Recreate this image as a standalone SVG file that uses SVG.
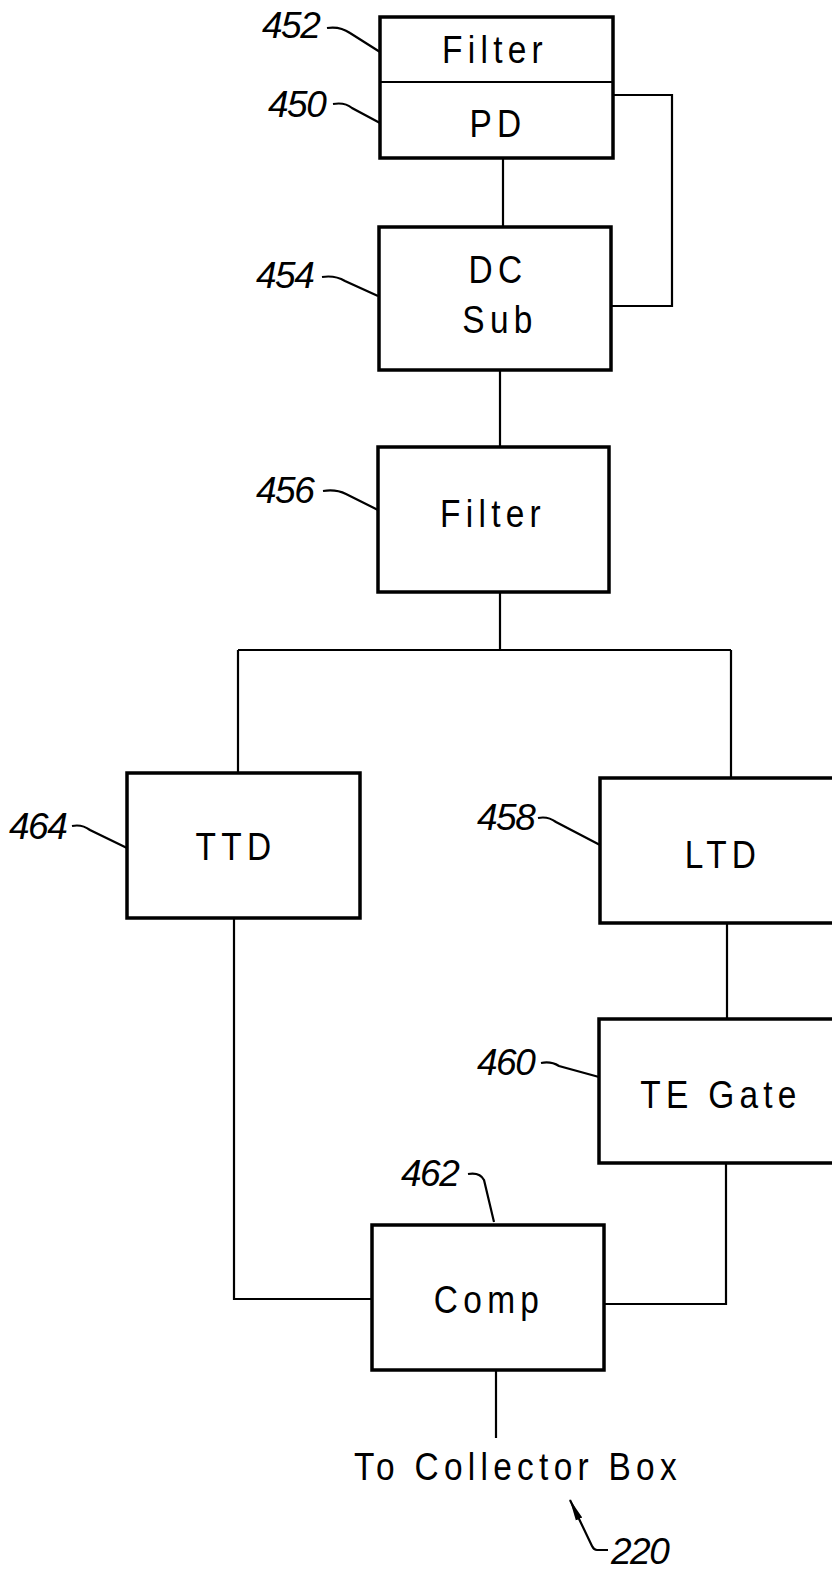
<svg xmlns="http://www.w3.org/2000/svg" width="832" height="1569" viewBox="0 0 832 1569">
<style>
.box{fill:#fff;stroke:#000;stroke-width:3.5}
.ln{fill:none;stroke:#000;stroke-width:2.2}
.t{font-family:"Liberation Sans",Arial,sans-serif;font-size:38px;text-anchor:middle;letter-spacing:6px;fill:#000}
.ref{font-family:"Liberation Sans",Arial,sans-serif;font-style:italic;font-size:37px;fill:#000;letter-spacing:-1.5px}
</style>
<defs>
<marker id="ah" markerWidth="22" markerHeight="10" refX="21" refY="5" orient="auto" markerUnits="userSpaceOnUse">
<path d="M0,1.5 L22,5 L0,8.5 Z" fill="#000"/>
</marker>
</defs>
<g id="connectors">
<path class="ln" d="M613,95 H672 V306 H611"/>
<path class="ln" d="M503,158 V227"/>
<path class="ln" d="M500,370 V447"/>
<path class="ln" d="M500,592 V650 M238,650 H731 M238,650 V773 M731,650 V778"/>
<path class="ln" d="M727,923 V1019"/>
<path class="ln" d="M726,1163 V1304 H604"/>
<path class="ln" d="M234,918 V1299 H372"/>
<path class="ln" d="M496,1370 V1438"/>
</g>
<g id="n450_452">
<rect class="box" x="380" y="17" width="233" height="141"/>
<line class="ln" x1="380" y1="82" x2="613" y2="82"/>
<text class="t" transform="translate(495,63) scale(0.88,1)">Filter</text>
<text class="t" transform="translate(498,137) scale(0.88,1)">PD</text>
</g>
<g id="n454">
<rect class="box" x="379" y="227" width="232" height="143"/>
<text class="t" transform="translate(498,283) scale(0.88,1)">DC</text>
<text class="t" transform="translate(500,333) scale(0.88,1)">Sub</text>
</g>
<g id="n456">
<rect class="box" x="378" y="447" width="231" height="145"/>
<text class="t" transform="translate(493,527) scale(0.88,1)">Filter</text>
</g>
<g id="n464">
<rect class="box" x="127" y="773" width="233" height="145"/>
<text class="t" transform="translate(236,860) scale(0.88,1)">TTD</text>
</g>
<g id="n458">
<rect class="box" x="600" y="778" width="234" height="145"/>
<text class="t" transform="translate(723,868) scale(0.88,1)">LTD</text>
</g>
<g id="n460">
<rect class="box" x="599" y="1019" width="235" height="144"/>
<text class="t" transform="translate(721,1108) scale(0.88,1)">TE Gate</text>
</g>
<g id="n462">
<rect class="box" x="372" y="1225" width="232" height="145"/>
<text class="t" transform="translate(489,1313) scale(0.88,1)">Comp</text>
</g>
<g id="labels">
<text class="t" transform="translate(518,1480) scale(0.88,1)">To Collector Box</text>
<text class="ref" x="262" y="38">452</text>
<path class="ln" d="M327,28 Q340,26 350,33 L380,52"/>
<text class="ref" x="268" y="117">450</text>
<path class="ln" d="M333,104 Q345,102 352,108 L380,123"/>
<text class="ref" x="256" y="288">454</text>
<path class="ln" d="M322,277 Q335,275 345,281 L378,296"/>
<text class="ref" x="256" y="503">456</text>
<path class="ln" d="M323,491 Q336,489 346,494 L378,510"/>
<text class="ref" x="9" y="839">464</text>
<path class="ln" d="M72,826 Q82,824 90,830 L127,848"/>
<text class="ref" x="477" y="830">458</text>
<path class="ln" d="M538,818 Q548,816 556,822 L600,845"/>
<text class="ref" x="477" y="1075">460</text>
<path class="ln" d="M541,1063 Q551,1061 559,1066 L599,1077"/>
<text class="ref" x="401" y="1186">462</text>
<path class="ln" d="M468,1174 Q480,1172 484,1180 L494,1222"/>
<path class="ln" d="M608,1550 H597 Q594,1550 592,1546 L570,1500" marker-end="url(#ah)"/>
<text class="ref" x="611" y="1564">220</text>
</g>
</svg>
